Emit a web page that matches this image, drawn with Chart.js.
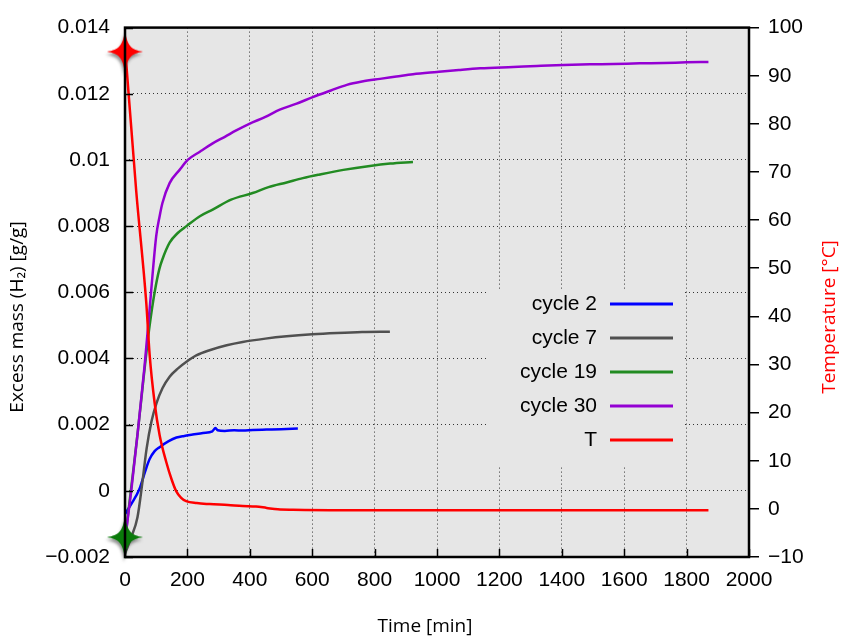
<!DOCTYPE html>
<html>
<head>
<meta charset="utf-8">
<script src="https://cdn.jsdelivr.net/npm/chart.js@4"></script>
<style>
  html, body { margin: 0; padding: 0; background: #fff; }
  #wrap { width: 848px; height: 640px; }
</style>
</head>
<body>
<div id="wrap"><canvas id="chart"></canvas></div>
<script>
// --- values ---
const timeTicks = ["0", "200", "400", "600", "800", "1000", "1200", "1400", "1600", "1800", "2000"];
const massTicks = ["\u22120.002", "0", "0.002", "0.004", "0.006", "0.008", "0.01", "0.012", "0.014"];
const tempTicks = ["\u221210", "0", "10", "20", "30", "40", "50", "60", "70", "80", "90", "100"];

const c2Time = [0, 20, 47, 65, 79, 95, 111, 140, 165, 190, 217, 250, 280, 290, 297, 320, 350, 377, 410, 454, 500, 554];
const c2Mass = [-0.0007, -0.0004, 0.00007, 0.0006, 0.00096, 0.0012, 0.00132, 0.0015, 0.00161, 0.00166, 0.0017, 0.00175, 0.0018, 0.0019, 0.00183, 0.00181, 0.00183, 0.00182, 0.00184, 0.00185, 0.00186, 0.00188];

const c7Time = [0, 20, 40, 55, 69, 85, 101, 120, 143, 170, 197, 230, 271, 326, 377, 450, 518, 600, 679, 760, 849];
const c7Mass = [-0.0019, -0.0014, -0.0008, 0.0002, 0.00126, 0.0021, 0.00265, 0.0031, 0.00345, 0.0037, 0.0039, 0.0041, 0.00425, 0.0044, 0.0045, 0.0046, 0.00467, 0.00473, 0.00477, 0.0048, 0.00481];

const c19Time = [0, 20, 40, 56, 70, 79, 95, 110, 120, 143, 170, 197, 240, 281, 340, 409, 460, 518, 570, 624, 700, 785, 850, 923];
const c19Mass = [-0.0015, 0.0001, 0.0017, 0.0031, 0.0043, 0.005, 0.006, 0.0067, 0.007, 0.0075, 0.0078, 0.008, 0.0083, 0.0085, 0.0088, 0.009, 0.00918, 0.00932, 0.00945, 0.00956, 0.0097, 0.00982, 0.00989, 0.00994];

const c30Time = [0, 20, 40, 63, 79, 88, 100, 111, 120, 143, 175, 201, 240, 281, 320, 358, 400, 450, 496, 550, 602, 660, 711, 760, 817, 870, 923, 1000, 1070, 1138, 1244, 1320, 1405, 1490, 1565, 1650, 1726, 1800, 1870];
const c30Mass = [-0.0015, 0.0000, 0.0017, 0.0038, 0.0055, 0.0065, 0.0077, 0.0083, 0.0087, 0.0093, 0.0097, 0.01, 0.01025, 0.0105, 0.0107, 0.0109, 0.0111, 0.0113, 0.01152, 0.0117, 0.0119, 0.0121, 0.01227, 0.01237, 0.01245, 0.01252, 0.01259, 0.01266, 0.01272, 0.01277, 0.01281, 0.01284, 0.01287, 0.01289, 0.0129, 0.01292, 0.01293, 0.01295, 0.01296];

const tTime = [0, 36, 68, 79, 95, 111, 132, 150, 164, 180, 196, 230, 271, 330, 377, 420, 454, 490, 538, 700, 900, 1100, 1300, 1500, 1700, 1870];
const tTemp = [96, 66, 43, 32, 22, 15.3, 9.8, 6, 3.7, 2.3, 1.6, 1.2, 1.0, 0.8, 0.6, 0.5, 0.2, -0.1, -0.2, -0.3, -0.3, -0.3, -0.3, -0.3, -0.3, -0.3];

// start markers (stars at t = 0)
const tempMarker = [0, 95];
const massMarker = [0, -0.0014];

// --- helpers ---
const plotBg = "#e6e6e6";
const tickFont = { family: "Liberation Sans", size: 21 };
const titleFont = "19px 'Open Sans'";

const toPoints = (xs, ys) => xs.map((x, i) => ({ x: x, y: ys[i] }));

// four-pointed star with a soft drop shadow, used as point image
const makeStar = (color) => {
  const c = document.createElement("canvas");
  c.width = 56;
  c.height = 64;
  const g = c.getContext("2d");
  g.shadowColor = "rgba(60,60,60,0.55)";
  g.shadowBlur = 3;
  g.shadowOffsetX = -1;
  g.shadowOffsetY = 3;
  g.fillStyle = color;
  g.translate(28, 32);
  g.beginPath();
  g.moveTo(0, -22);
  g.bezierCurveTo(2, -6, 6, -2, 18, 0);
  g.bezierCurveTo(6, 2, 2, 6, 0, 22);
  g.bezierCurveTo(-2, 6, -6, 2, -18, 0);
  g.bezierCurveTo(-6, -2, -2, -6, 0, -22);
  g.fill();
  return c;
};

const series = (label, xs, ys, color, axis, order) => ({
  label: label,
  data: toPoints(xs, ys),
  borderColor: color,
  backgroundColor: color,
  borderWidth: 2.5,
  pointRadius: 0,
  cubicInterpolationMode: "monotone",
  yAxisID: axis,
  order: order,
});

// background, legend box, frame, inward ticks and axis titles
const framePlugin = {
  id: "frame",
  beforeDraw(chart) {
    const { ctx, chartArea: a } = chart;
    ctx.save();
    ctx.fillStyle = plotBg;
    ctx.fillRect(a.left, a.top, a.right - a.left, a.bottom - a.top);
    ctx.restore();
  },
  beforeDatasetsDraw(chart) {
    const ctx = chart.ctx;
    ctx.save();
    ctx.fillStyle = plotBg;
    ctx.fillRect(487, 290, 197, 177);
    ctx.font = "21px 'Liberation Sans'";
    ctx.textAlign = "right";
    ctx.textBaseline = "middle";
    chart.data.datasets
      .filter((d) => d.label)
      .forEach((d, i) => {
        const y = 304 + i * 34;
        ctx.fillStyle = "#000";
        ctx.fillText(d.label, 597, y);
        ctx.strokeStyle = d.borderColor;
        ctx.lineWidth = 3;
        ctx.beginPath();
        ctx.moveTo(610, y);
        ctx.lineTo(673, y);
        ctx.stroke();
      });
    ctx.restore();
  },
  afterDraw(chart) {
    const { ctx, chartArea: a } = chart;
    ctx.save();
    ctx.strokeStyle = "#000";
    ctx.lineWidth = 1.5;
    const y = chart.scales.y;
    y.ticks.forEach((t) => {
      const py = Math.round(y.getPixelForValue(t.value)) + 0.5;
      ctx.beginPath();
      ctx.moveTo(a.left, py);
      ctx.lineTo(a.left + 8, py);
      ctx.stroke();
    });
    const x = chart.scales.x;
    x.ticks.forEach((t) => {
      const px = Math.round(x.getPixelForValue(t.value)) + 0.5;
      ctx.beginPath();
      ctx.moveTo(px, a.bottom);
      ctx.lineTo(px, a.bottom - 8);
      ctx.stroke();
    });
    ctx.lineWidth = 2.5;
    ctx.strokeRect(a.left, a.top, a.right - a.left, a.bottom - a.top);

    // axis titles, centred on the canvas like the reference
    ctx.font = titleFont;
    ctx.textAlign = "center";
    ctx.textBaseline = "middle";
    ctx.fillStyle = "#000";
    ctx.fillText("Time [min]", 425, 627);
    ctx.translate(18, 317);
    ctx.rotate(-Math.PI / 2);
    ctx.fillText("Excess mass (H\u2082) [g/g]", 0, 0);
    ctx.restore();
    ctx.save();
    ctx.font = titleFont;
    ctx.textAlign = "center";
    ctx.textBaseline = "middle";
    ctx.fillStyle = "#ff0000";
    ctx.translate(830, 317);
    ctx.rotate(-Math.PI / 2);
    ctx.fillText("Temperature [\u00B0C]", 0, 0);
    ctx.restore();
  },
};

new Chart(document.getElementById("chart"), {
  type: "line",
  data: {
    datasets: [
      series("cycle 2", c2Time, c2Mass, "#0000ff", "y", 5),
      series("cycle 7", c7Time, c7Mass, "#505050", "y", 4),
      series("cycle 19", c19Time, c19Mass, "#228b22", "y", 3),
      series("cycle 30", c30Time, c30Mass, "#9400d3", "y", 2),
      series("T", tTime, tTemp, "#ff0000", "yT", 1),
      {
        data: [{ x: tempMarker[0], y: tempMarker[1] }],
        yAxisID: "yT",
        pointStyle: makeStar("#ff0000"),
        showLine: false,
        clip: false,
        order: 0,
      },
      {
        data: [{ x: massMarker[0], y: massMarker[1] }],
        yAxisID: "y",
        pointStyle: makeStar("#0a7a0a"),
        showLine: false,
        clip: false,
        order: 0,
      },
    ],
  },
  options: {
    responsive: true,
    maintainAspectRatio: false,
    animation: false,
    layout: { padding: { top: 17, left: 0, right: 0, bottom: 0 } },
    plugins: { legend: { display: false }, tooltip: { enabled: false } },
    scales: {
      x: {
        type: "linear",
        position: "bottom",
        min: 0,
        max: 2000,
        ticks: {
          stepSize: 200,
          padding: 11,
          color: "#000",
          font: tickFont,
          maxRotation: 0,
          callback: (v, i) => timeTicks[i],
        },
        grid: { color: "#333", drawTicks: false },
        border: { display: false, dash: [1, 3] },
        afterFit: (s) => {
          s.height = 83;
        },
      },
      y: {
        position: "left",
        min: -0.002,
        max: 0.014,
        ticks: {
          stepSize: 0.002,
          padding: 15,
          color: "#000",
          font: tickFont,
          callback: (v, i) => massTicks[i],
        },
        grid: { color: "#333", drawTicks: false },
        border: { display: false, dash: [1, 3] },
        afterFit: (s) => {
          s.width = 125;
        },
      },
      yT: {
        position: "right",
        min: -10,
        max: 100,
        ticks: {
          stepSize: 10,
          padding: 9,
          color: "#000",
          font: tickFont,
          callback: (v, i) => tempTicks[i],
        },
        grid: { drawOnChartArea: false, drawTicks: true, tickLength: 10, color: "#000", lineWidth: 1.5 },
        border: { display: false },
        afterFit: (s) => {
          s.width = 99;
        },
      },
    },
  },
  plugins: [framePlugin],
});
</script>
</body>
</html>
